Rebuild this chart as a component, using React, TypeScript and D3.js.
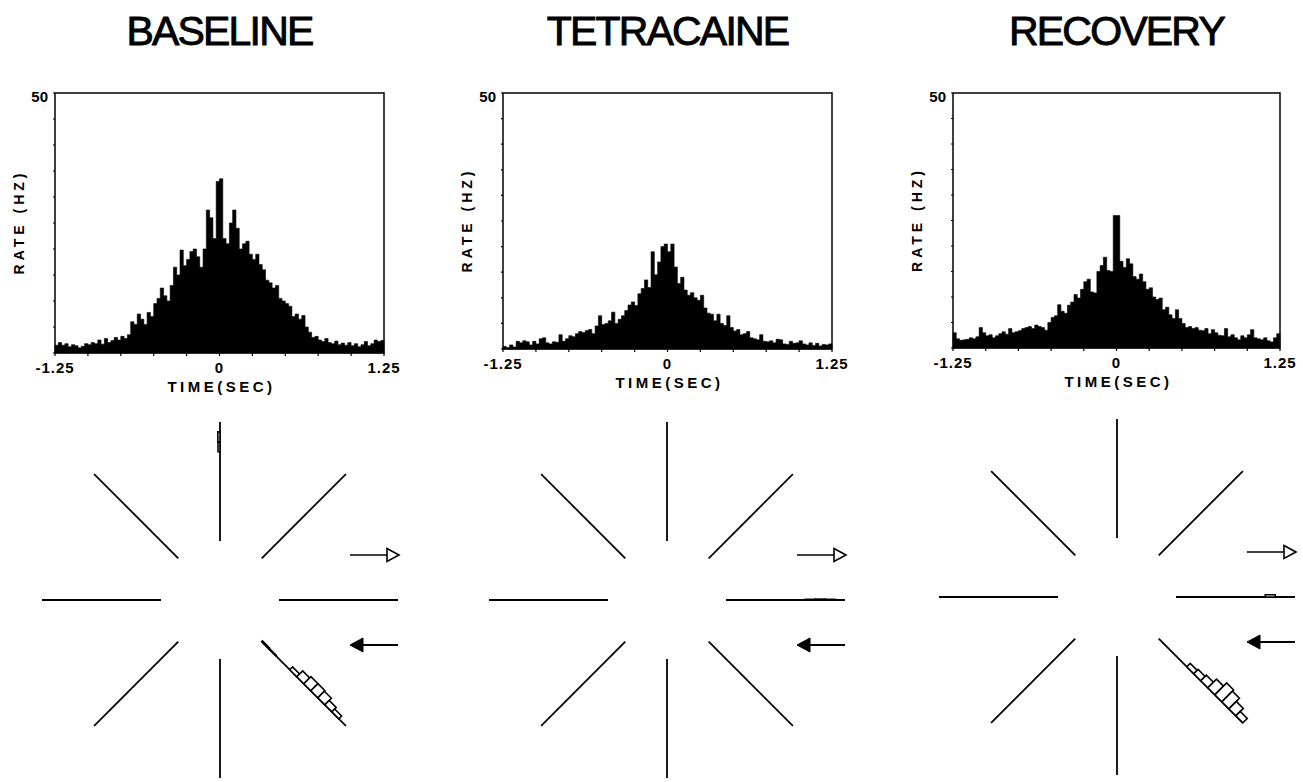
import * as d3 from "d3"

// ---- data ----
const TITLES = ["BASELINE", "TETRACAINE", "RECOVERY"]
const TIME_TICKS = [-1.25, 0, 1.25]
const TIME_TICK_LABELS = ["-1.25", "0", "1.25"]
const RATE_MAX = 50

// cross-correlogram rates (Hz), 100 bins from -1.25 to 1.25 s
const BASELINE_RATE = [
  1.5, 2, 1.5, 1.8, 1.2, 1.6, 1.4, 1, 1.3, 1.8,
  1.6, 2, 1.8, 2.5, 1.7, 2.8, 2, 2.4, 3, 2.5,
  3.2, 2.8, 3.5, 6, 5.5, 7.5, 6.5, 5.5, 7.8, 7,
  9.5, 10.5, 12.5, 11, 10, 13, 16.5, 15, 19.8, 16.8,
  18, 19.5, 20, 18.5, 16.5, 20, 27.5, 26, 22, 33,
  33.5, 22, 21, 25, 27.5, 24, 20, 21, 21.5, 19,
  18, 19, 17, 16, 14, 13.5, 12.5, 13, 10.5, 10,
  9.5, 9, 7, 7.5, 6.5, 7.2, 5, 4, 3, 3.2,
  2.5, 2.2, 2.8, 2, 1.8, 2.3, 1.6, 1.9, 1.5, 2,
  1.4, 1.8, 1.2, 1.6, 2.2, 1.4, 1.8, 2.5, 2.2, 2.4,
]
const TETRACAINE_RATE = [
  0.5, 0.3, 0.8, 0.4, 1.5, 1.2, 1.6, 1.4, 0.8, 1.5,
  1, 2, 2.2, 1.2, 1, 1.4, 1.3, 2.8, 1.5, 2,
  2.6, 2.4, 3, 3.4, 3.2, 3.6, 3.8, 3, 4.5, 6.5,
  4.8, 5, 5.5, 7.2, 5, 5.8, 6.5, 7.5, 8.6, 9.2,
  8.5, 10.8, 11.8, 13.5, 12, 19, 14.5, 17, 20, 20.5,
  19, 20.5, 16, 12.8, 14, 11.5, 10.5, 11, 10, 9.5,
  10.5, 8, 7, 6.8, 5.5, 6.8, 5, 4.6, 6.5, 4.2,
  3.5, 3.8, 2.8, 3, 3.4, 2.2, 2, 1.8, 2.8, 1.5,
  1.4, 1.6, 1.2, 1.9, 1.8, 1, 0.9, 1.5, 1.1, 1.2,
  1.6, 1, 0.8, 1.2, 0.7, 1.1, 0.6, 0.9, 0.8, 1,
]
const RECOVERY_RATE = [
  3, 1.8, 1.5, 1.6, 1.7, 2, 1.8, 2.2, 4, 3,
  2.4, 2.6, 2, 2.4, 2.8, 3.2, 2.7, 3.8, 3, 3.2,
  3.4, 3.8, 4, 4.2, 3.8, 4.5, 4.2, 4, 3.5, 5,
  6, 6.3, 8.5, 7.2, 6.8, 8.4, 9, 10.5, 9.8, 11.5,
  13, 13.5, 11, 10.8, 15, 16.2, 17.8, 15.2, 15, 26,
  26, 17, 15.8, 17.5, 16.5, 14, 13.5, 14.5, 13, 11.5,
  11.8, 10, 9.5, 9.8, 7.5, 8, 6.5, 5.8, 7.5, 5.8,
  4.8, 4, 4.2, 3.8, 4, 3.5, 3.4, 3.8, 2.8, 3.6,
  3, 2.5, 2.4, 3.8, 2.2, 2.6, 2, 1.6, 2.4, 2,
  2.6, 3.6, 2, 1.8, 1.6, 2, 1.4, 1.2, 2, 2.8,
]

// motion directions (deg, counter-clockwise from right)
const DIRECTIONS = [0, 45, 90, 135, 180, 225, 270, 315]

// direction histograms drawn along spokes, 12 bins from inner to outer end
const BASELINE_SPOKES = [
  { dir: 90, values: [0, 0, 0, 0, 0, 0, 0, 0, 0, 0.45, 0.5, 0] },
  { dir: 315, values: [0.25, 0.15, 0, 0, 0.9, 1.9, 2.3, 2.3, 2.1, 1.4, 0.9, 0] },
]
const TETRACAINE_SPOKES = [
  { dir: 0, values: [0, 0, 0, 0, 0, 0, 0, 0, 0.15, 0.2, 0.15, 0] },
]
const RECOVERY_SPOKES = [
  { dir: 0, values: [0, 0, 0, 0, 0, 0, 0, 0, 0, 0.5, 0, 0] },
  { dir: 315, values: [0, 0, 0, 0, 1.1, 1.4, 1.8, 2.8, 3.8, 3.4, 2.4, 1.4] },
]

const PANELS = [
  { title: TITLES[0], rates: BASELINE_RATE, spokes: BASELINE_SPOKES, box: [55, 384, 93, 353], center: [220, 600] },
  { title: TITLES[1], rates: TETRACAINE_RATE, spokes: TETRACAINE_SPOKES, box: [503, 832, 93, 349], center: [667, 600] },
  { title: TITLES[2], rates: RECOVERY_RATE, spokes: RECOVERY_SPOKES, box: [953, 1280, 93, 348], center: [1117, 597] },
]

const FONT = "'Liberation Sans', Arial, Helvetica, sans-serif"

function Correlogram({ rates, box }) {
  const [x0, x1, y0, y1] = box
  const x = d3.scaleLinear().domain([-1.25, 1.25]).range([x0, x1])
  const y = d3.scaleLinear().domain([0, RATE_MAX]).range([y1, y0])
  const binW = 2.5 / rates.length
  const cx = (x0 + x1) / 2
  const xTicks = d3.range(-1.25, 1.2501, 0.25)
  const yTicks = d3.range(0, RATE_MAX + 0.01, 5)

  // step outline: each bin holds its value until the next bin
  const steps = rates.map((r, i) => ({ t: -1.25 + i * binW, r }))
  steps.push({ t: 1.25, r: rates[rates.length - 1] })
  const area = d3.area()
    .x((d) => x(d.t))
    .y0(y(0))
    .y1((d) => y(d.r))
    .curve(d3.curveStepAfter)

  return (
    <g>
      <path d={area(steps)} fill="#000" stroke="#000" strokeWidth={0.6} strokeLinejoin="miter" />
      <rect x={x0} y={y0} width={x1 - x0} height={y1 - y0} fill="none" stroke="#000" strokeWidth={1.5} />
      {xTicks.map((t, i) => (
        <line key={"xt" + i} x1={x(t)} x2={x(t)} y1={y1} y2={y1 + 3} stroke="#000" strokeWidth={1.2} />
      ))}
      {yTicks.map((v, i) => (
        <line key={"yt" + i} x1={x0 - 2} x2={x0} y1={y(v)} y2={y(v)} stroke="#000" strokeWidth={1.2} />
      ))}
      {TIME_TICKS.map((t, i) => (
        <text key={"xl" + i} x={x(t)} y={y1 + 20} textAnchor="middle" fontFamily={FONT}
          fontWeight="bold" fontSize={15} letterSpacing={1}>{TIME_TICK_LABELS[i]}</text>
      ))}
      <text x={x0 - 7} y={y0 + 9} textAnchor="end" fontFamily={FONT} fontWeight="bold" fontSize={15}>
        {RATE_MAX}
      </text>
      <text x={cx + 2} y={y1 + 39} textAnchor="middle" fontFamily={FONT} fontWeight="bold"
        fontSize={15} letterSpacing={3.5}>TIME(SEC)</text>
      <text transform={`translate(${x0 - 31},${(y0 + y1) / 2 - 1}) rotate(-90)`} textAnchor="middle"
        fontFamily={FONT} fontWeight="bold" fontSize={14} letterSpacing={4}>RATE (HZ)</text>
    </g>
  )
}

function Rosette({ center, spokes }) {
  const [cx, cy] = center
  const r = d3.scaleLinear().domain([0, 12]).range([59, 178])
  const h = d3.scaleLinear().domain([0, 5]).range([0, 22])
  const vec = (deg) => {
    const a = (deg * Math.PI) / 180
    return { dx: Math.cos(a), dy: -Math.sin(a), px: -Math.sin(a), py: -Math.cos(a) }
  }
  const ay1 = cy - 45
  const ay2 = cy + 45

  return (
    <g>
      {DIRECTIONS.map((deg) => {
        const v = vec(deg)
        return (
          <line key={deg} x1={cx + v.dx * r(0)} y1={cy + v.dy * r(0)}
            x2={cx + v.dx * r(12)} y2={cy + v.dy * r(12)} stroke="#000" strokeWidth={1.8} />
        )
      })}
      {spokes.map((s) =>
        s.values.map((val, k) => {
          if (!val) return null
          const v = vec(s.dir)
          const a = r(k)
          const b = r(k + 1)
          const o = h(val)
          const pts = [
            [cx + v.dx * a, cy + v.dy * a],
            [cx + v.dx * b, cy + v.dy * b],
            [cx + v.dx * b + v.px * o, cy + v.dy * b + v.py * o],
            [cx + v.dx * a + v.px * o, cy + v.dy * a + v.py * o],
          ]
          return (
            <polygon key={s.dir + "-" + k} points={pts.map((p) => p.join(",")).join(" ")}
              fill="#fff" stroke="#000" strokeWidth={1.6} />
          )
        })
      )}
      {/* preferred / null direction arrows */}
      <line x1={cx + 130} x2={cx + 167} y1={ay1} y2={ay1} stroke="#000" strokeWidth={1.6} />
      <polygon points={`${cx + 167},${ay1 - 6.5} ${cx + 179},${ay1} ${cx + 167},${ay1 + 6.5}`}
        fill="#fff" stroke="#000" strokeWidth={1.6} />
      <line x1={cx + 142} x2={cx + 178} y1={ay2} y2={ay2} stroke="#000" strokeWidth={1.8} />
      <polygon points={`${cx + 130},${ay2} ${cx + 143},${ay2 - 7} ${cx + 143},${ay2 + 7}`}
        fill="#000" stroke="#000" strokeWidth={1} />
    </g>
  )
}

export default function App() {
  return (
    <svg width={1303} height={782} style={{ position: "absolute", left: 0, top: 0, background: "#fff" }}>
      {PANELS.map((p) => (
        <g key={p.title}>
          <text x={(p.box[0] + p.box[1]) / 2} y={45} textAnchor="middle" fontFamily={FONT}
            fontSize={41} letterSpacing={-1.8} stroke="#000" strokeWidth={0.9}>{p.title}</text>
          <Correlogram rates={p.rates} box={p.box} />
          <Rosette center={p.center} spokes={p.spokes} />
        </g>
      ))}
    </svg>
  )
}
